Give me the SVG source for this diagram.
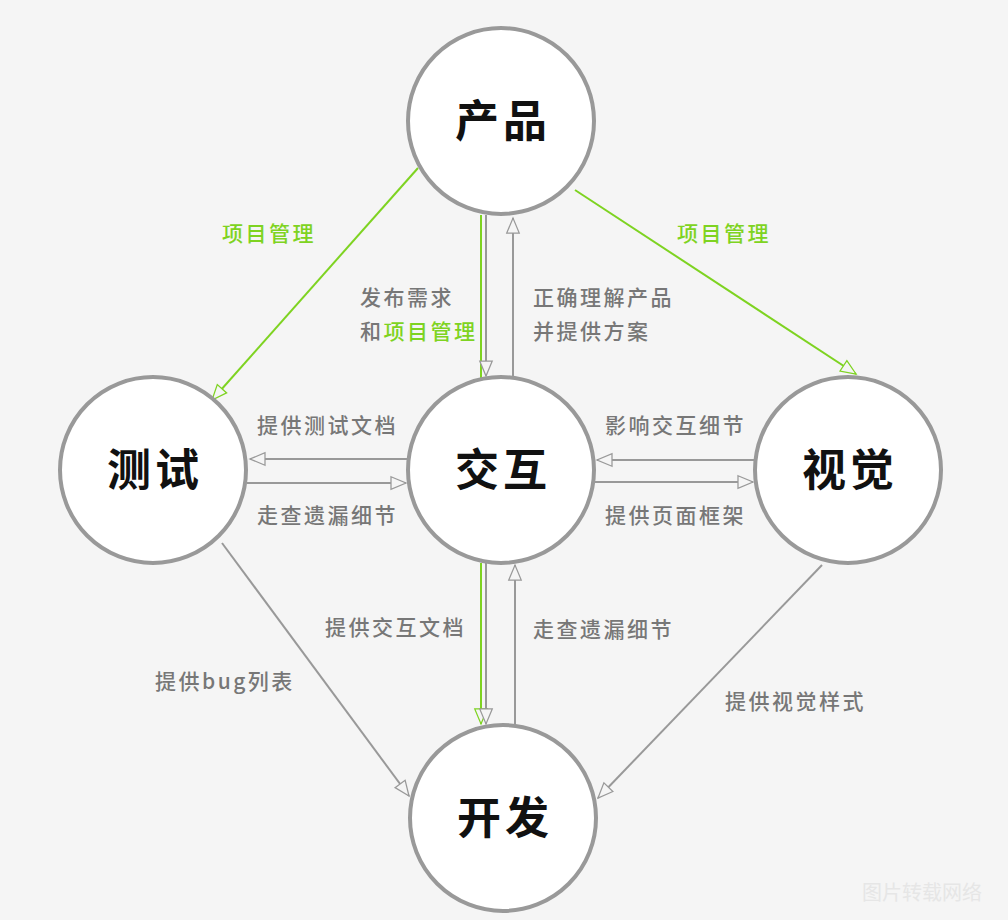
<svg xmlns="http://www.w3.org/2000/svg" width="1008" height="920" viewBox="0 0 1008 920">
<style>
.n{fill:#fff;stroke:#999;stroke-width:4}
.t{font-family:"Noto Sans CJK SC",sans-serif;font-weight:bold;font-size:44px;letter-spacing:4px;fill:#111;text-anchor:middle}
.l{font-family:"Noto Sans CJK SC",sans-serif;font-weight:500;font-size:21px;letter-spacing:2.5px;fill:#777}
.g{fill:#7ed321}
.c{stroke:#999;stroke-width:2;fill:none;marker-end:url(#a)}
.cg{stroke:#7ed321;stroke-width:2;fill:none;marker-end:url(#ag)}
</style>
<defs>
<marker id="a" viewBox="0 0 12 12" refX="11" refY="6" markerWidth="10" markerHeight="10" markerUnits="userSpaceOnUse" orient="auto" overflow="visible"><path d="M-7,-1.5 L11,6 L-7,13.5 Z" fill="#f5f5f5" stroke="#999" stroke-width="1.5"/></marker>
<marker id="ag" viewBox="0 0 12 12" refX="11" refY="6" markerWidth="10" markerHeight="10" markerUnits="userSpaceOnUse" orient="auto" overflow="visible"><path d="M-7,-1.5 L11,6 L-7,13.5 Z" fill="#f5f5f5" stroke="#7ed321" stroke-width="1.5"/></marker>
</defs>
<rect width="1008" height="920" fill="#f5f5f5"/>
<g id="connectors">
<path class="cg" d="M418,168 L212,400"/>
<path class="cg" d="M575,190 L856,374"/>
<line x1="481" y1="215" x2="481" y2="378" stroke="#7ed321" stroke-width="2"/>
<path class="c" d="M486,215 L486,376"/>
<path class="c" d="M513,378 L513,218"/>
<path class="c" d="M408,459 L250,459"/>
<path class="c" d="M247,483 L406,483"/>
<path class="c" d="M755,460 L597,460"/>
<path class="c" d="M595,482 L753,482"/>
<path class="cg" d="M481,563 L481,724"/>
<path class="c" d="M486,563 L486,724"/>
<path class="c" d="M515,725 L515,565"/>
<path class="c" d="M222,543 L409,796"/>
<path class="c" d="M822,565 L598,798"/>
</g>
<g id="labels">
<text class="l g" x="222" y="241">项目管理</text>
<text class="l g" x="677" y="241">项目管理</text>
<text class="l" x="360" y="305">发布需求</text>
<text class="l" x="360" y="339">和<tspan class="g">项目管理</tspan></text>
<text class="l" x="533" y="305">正确理解产品</text>
<text class="l" x="533" y="339">并提供方案</text>
<text class="l" x="257" y="433">提供测试文档</text>
<text class="l" x="257" y="523">走查遗漏细节</text>
<text class="l" x="605" y="433">影响交互细节</text>
<text class="l" x="605" y="523">提供页面框架</text>
<text class="l" x="325" y="635">提供交互文档</text>
<text class="l" x="533" y="637">走查遗漏细节</text>
<text class="l" x="155" y="689">提供bug列表</text>
<text class="l" x="725" y="709">提供视觉样式</text>
<text x="862" y="900" font-family="Noto Sans CJK SC,sans-serif" font-size="20" fill="#e6e6e6">图片转载网络</text>
</g>
<g id="product"><circle class="n" cx="501" cy="121" r="93"/><text class="t" x="503" y="137">产品</text></g>
<g id="test"><circle class="n" cx="153" cy="470" r="93"/><text class="t" x="155" y="486">测试</text></g>
<g id="interaction"><circle class="n" cx="501" cy="470" r="93"/><text class="t" x="503" y="486">交互</text></g>
<g id="visual"><circle class="n" cx="848" cy="470" r="93"/><text class="t" x="850" y="486">视觉</text></g>
<g id="dev"><circle class="n" cx="503" cy="818" r="93"/><text class="t" x="505" y="834">开发</text></g>
</svg>
